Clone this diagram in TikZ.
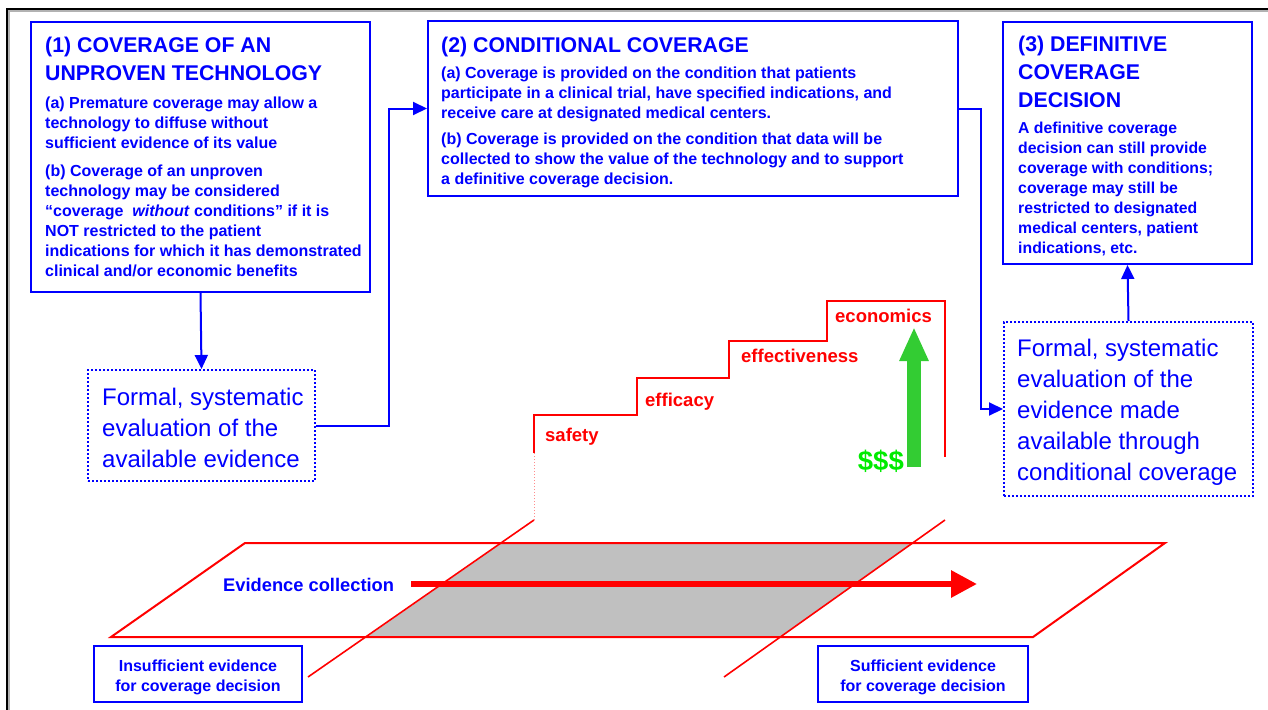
\documentclass[tikz,border=0pt]{standalone}
\usepackage{fontspec}
\setmainfont{Liberation Sans}
\usepackage{tikz}
\usetikzlibrary{arrows.meta,calc}
\definecolor{CovBlue}{RGB}{0,0,255}
\definecolor{CovRed}{RGB}{255,0,0}
\definecolor{PlaneGray}{RGB}{192,192,192}
\definecolor{CashGreen}{RGB}{51,204,51}
\definecolor{DollarGreen}{RGB}{0,235,0}

\begin{document}
\begin{tikzpicture}[x=1pt,y=-1pt,
    frame/.style={draw=CovBlue, line width=2pt, inner sep=0pt, anchor=north west},
    dotframe/.style={draw=CovBlue, line width=2pt, dash pattern=on 2pt off 2pt, inner sep=0pt, anchor=north west},
    headtxt/.style={text=CovBlue, font=\fontsize{21.3}{28}\selectfont\bfseries, align=left, inner sep=0pt, anchor=north west},
    bodytxt/.style={text=CovBlue, font=\fontsize{16}{20}\selectfont\bfseries, align=left, inner sep=0pt, anchor=north west},
    evaltxt/.style={text=CovBlue, font=\fontsize{24}{31}\selectfont, align=left, inner sep=0pt, anchor=north west},
    smallbox/.style={draw=CovBlue, line width=2pt, inner sep=0pt, minimum width=208pt, minimum height=56pt, anchor=north west},
    smalltxt/.style={text=CovBlue, align=center, inner sep=0pt, font=\fontsize{16}{20}\selectfont\bfseries},
    conn/.style={draw=CovBlue, line width=2pt, -{Triangle[length=14pt,width=13pt]}},
    stairlbl/.style={text=CovRed, font=\fontsize{18.5}{22}\selectfont\bfseries, inner sep=0pt, anchor=base west},
    redline/.style={draw=CovRed, line width=2pt}]
  \useasboundingbox (0,0) rectangle (1268,709);

  % outer frame
  \draw[line width=1.5pt, gray!60] (9,715) -- (9,11) -- (1275,11);
  \draw[line width=1.5pt, black] (7,715) -- (7,9) -- (1275,9);

  % (1) coverage of an unproven technology
  \node[frame, minimum width=339pt, minimum height=270pt] (cov1) at (30,21) {};
  \node[headtxt] (cov1-head) at (45,36.5) {(1) COVERAGE OF AN\\UNPROVEN TECHNOLOGY};
  \node[bodytxt] (cov1-body) at (45,96.5)
    {(a) Premature coverage may allow a\\
     technology to diffuse without\\
     sufficient evidence of its value\\[8pt]
     (b) Coverage of an unproven\\
     technology may be considered\\
     “coverage \ \textit{without} conditions” if it is\\
     NOT restricted to the patient\\
     indications for which it has demonstrated\\
     clinical and/or economic benefits};

  % (2) conditional coverage
  \node[frame, minimum width=530pt, minimum height=174pt] (cov2) at (427,20.5) {};
  \node[headtxt] (cov2-head) at (441,36.5) {(2) CONDITIONAL COVERAGE};
  \node[bodytxt] (cov2-body) at (441,67)
    {(a) Coverage is provided on the condition that patients\\
     participate in a clinical trial, have specified indications, and\\
     receive care at designated medical centers.\\[6pt]
     (b) Coverage is provided on the condition that data will be\\
     collected to show the value of the technology and to support\\
     a definitive coverage decision.};

  % (3) definitive coverage decision
  \node[frame, minimum width=249pt, minimum height=242pt] (cov3) at (1002,21) {};
  \node[headtxt] (cov3-head) at (1018,36) {(3) DEFINITIVE\\COVERAGE\\DECISION};
  \node[bodytxt, font=\fontsize{15.8}{20}\selectfont\bfseries] (cov3-body) at (1018,122)
    {A definitive coverage\\
     decision can still provide\\
     coverage with conditions;\\
     coverage may still be\\
     restricted to designated\\
     medical centers, patient\\
     indications, etc.};

  % evaluation boxes
  \node[dotframe, minimum width=227pt, minimum height=111pt] (eval1) at (87,369) {};
  \node[evaltxt] (eval1-txt) at (102,387.5)
    {Formal, systematic\\evaluation of the\\available evidence};
  \node[dotframe, minimum width=249pt, minimum height=174pt] (eval2) at (1003,321) {};
  \node[evaltxt] (eval2-txt) at (1017,338.5)
    {Formal, systematic\\evaluation of the\\evidence made\\available through\\conditional coverage};

  % connectors
  \draw[conn] (cov1.south) -- (eval1.north);
  \draw[conn] (eval1.east) -| ([xshift=-38pt]cov2.west) -- (cov2.west);
  \draw[conn] (cov2.east) -| ([xshift=-22pt]eval2.west) -- (eval2.west);
  \draw[conn] (eval2.north) -- (cov3.south);

  % evidence plane
  \fill[PlaneGray] (502,543) -- (913,543) -- (780,637) -- (367,637) -- cycle;
  \draw[redline] (245,543) -- (1165,543) -- (1033,637) -- (111,637) -- cycle;
  \draw[redline, line width=1.6pt] (534,520) -- (308,677);
  \draw[redline, line width=1.6pt] (945,520) -- (724,677);

  % evidence steps
  \draw[CovRed!45, line width=1pt, dotted] (534,520) -- (534,453);
  \draw[redline, line width=2.5pt] (534,453) -- (534,415) -- (637,415) -- (637,378)
    -- (729,378) -- (729,341) -- (827,341) -- (827,301) -- (945,301) -- (945,457);
  \foreach \px/\py/\lab in {545/441.5/safety, 645/406.5/efficacy,
      741/362.5/effectiveness, 835/322.5/economics}
    \node[stairlbl] (lbl-\lab) at (\px,\py) {\lab};

  % cost arrow
  \draw[CashGreen, line width=14pt, -{Triangle[length=34pt,width=27pt]}] (914,467) -- (914,327);
  \node[text=DollarGreen, font=\fontsize{27.5}{30}\selectfont\bfseries, inner sep=0pt, anchor=base east]
    (cash) at (904,470) {\$\$\$};

  % evidence collection
  \node[text=CovBlue, font=\fontsize{18.3}{22}\selectfont\bfseries, inner sep=0pt, anchor=base west]
    (evid) at (223,591) {Evidence collection};
  \coordinate (evid-start) at (411,584);
  \coordinate (evid-end) at (977,584);
  \draw[CovRed, line width=6pt, -{Triangle[length=26pt,width=26pt]}] (evid-start) -- (evid-end);

  \node[smallbox] (insuff) at (93,645) {};
  \node[smalltxt] (insuff-txt) at ([yshift=-3pt]insuff.center) {Insufficient evidence\\for coverage decision};
  \node[smallbox, minimum width=210pt] (suff) at (817,645) {};
  \node[smalltxt] (suff-txt) at ([yshift=-3pt]suff.center) {Sufficient evidence\\for coverage decision};
\end{tikzpicture}
\end{document}
